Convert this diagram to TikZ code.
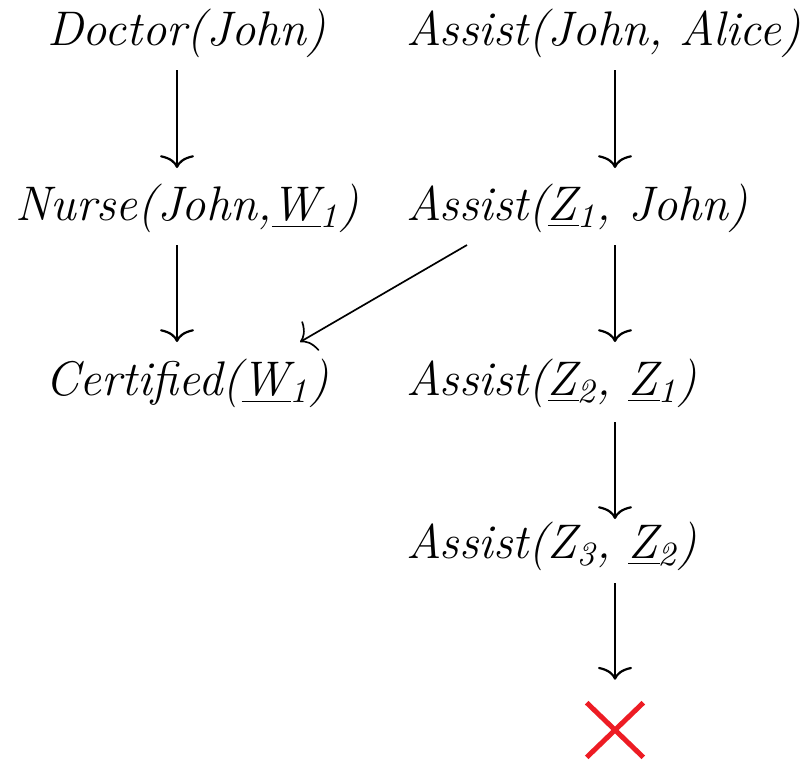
\documentclass[tikz,border=0pt]{standalone}
\usetikzlibrary{arrows.meta}
\definecolor{failred}{RGB}{237,28,36}
\tikzset{
  term/.style={inner sep=0pt, font=\fontsize{12.15}{14}\selectfont\itshape},
  arr/.style={line width=0.55pt, -{Computer Modern Rightarrow[length=3.2pt,width=8.5pt]}},
  thinarr/.style={line width=0.42pt, -{Computer Modern Rightarrow[length=3.2pt,width=8.5pt]}},
}
\newcommand{\uvar}[2]{\underline{#1\kern0.5pt}\kern-0.5pt\textsubscript{#2}}
\begin{document}
\begin{tikzpicture}[x=0.25pt, y=-0.25pt]
  \useasboundingbox (0,0) rectangle (803,762);

  % left derivation
  \node[term, anchor=base] (doc)  at (186.5,45)  {Doctor(John)};
  \node[term, anchor=base] (nurse) at (187,220) {Nurse(John,\uvar{W}{1})};
  \node[term, anchor=base] (cert) at (187,395) {Certified(\uvar{W}{1})};

  % right derivation
  \node[term, anchor=base west] (a0) at (406,45)  {Assist(John, Alice)};
  \node[term, anchor=base west] (a1) at (406,220) {Assist(\uvar{Z}{1}, John)};
  \node[term, anchor=base west] (a2) at (406,395) {Assist(\uvar{Z}{2}, \uvar{Z}{1})};
  \node[term, anchor=base west] (a3) at (406,558) {Assist(Z\textsubscript{3}, \uvar{Z}{2})};

  % failure mark
  \node[inner sep=0pt, minimum width=13.75pt, minimum height=13.25pt] (fail) at (615,730) {};
  \draw[failred, line width=1.25pt] (fail.north west) -- (fail.south east)
                                    (fail.south west) -- (fail.north east);

  % resolution steps
  \draw[arr] ([shift={(-9.5,25)}]doc.base) -- ([shift={(-10,-52)}]nurse.base);
  \draw[arr] ([shift={(-10,25)}]nurse.base) -- ([shift={(-10,-53)}]cert.base);
  \draw[arr] ([shift={(209,25)}]a0.base west) -- ([shift={(209,-52)}]a1.base west);
  \draw[arr] ([shift={(209,25)}]a1.base west) -- ([shift={(209,-53)}]a2.base west);
  \draw[arr] ([shift={(209,27)}]a2.base west) -- ([shift={(209,-39)}]a3.base west);
  \draw[arr] ([shift={(209,25)}]a3.base west) -- ([shift={(0,-23)}]fail.north);
  \draw[thinarr] ([shift={(61,25)}]a1.base west) -- ([shift={(113,-53)}]cert.base);
\end{tikzpicture}
\end{document}
